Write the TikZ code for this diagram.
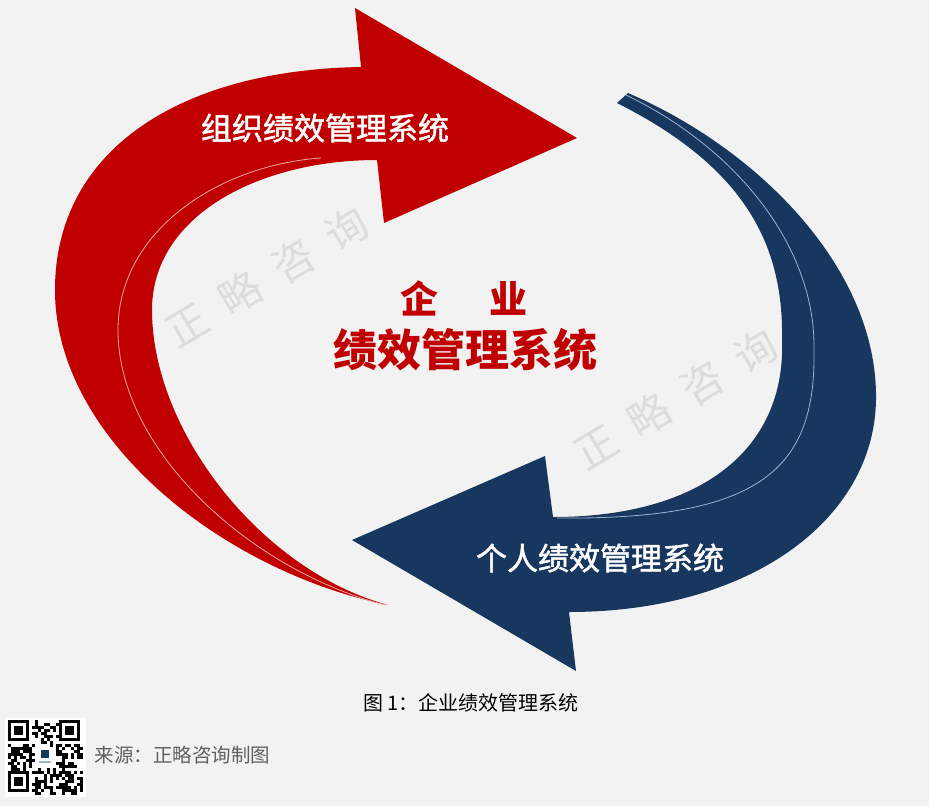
\documentclass[tikz,border=0pt]{standalone}
\usepackage{fontspec}
\setmainfont{Noto Sans CJK SC}
\newfontfamily\medcjk[FakeBold=1.6]{Noto Sans CJK SC}
\usepackage{tikz}

\definecolor{bggray}{HTML}{F2F2F2}
\definecolor{redfill}{HTML}{C00000}
\definecolor{bluefill}{HTML}{17375E}
\definecolor{redline}{HTML}{F3A6A0}
\definecolor{blueline}{HTML}{9DB3D0}
\definecolor{markgray}{HTML}{DCDCDC}
\definecolor{srcgray}{HTML}{5F5F5F}

\begin{document}
\begin{tikzpicture}[x=1pt, y=-1pt,
  arrowtext/.style={text=white, font=\fontsize{31}{36}\selectfont\medcjk},
  bigtitle/.style={text=redfill, font=\fontsize{44}{50}\selectfont\bfseries},
  midtitle/.style={text=redfill, font=\fontsize{38}{44}\selectfont\bfseries},
  watermark/.style={text=markgray, rotate=31, font=\fontsize{42}{48}\selectfont},
  captiontext/.style={text=black, font=\fontsize{20}{24}\selectfont}]
\useasboundingbox (0,0) rectangle (929,806);
\fill[bggray] (0,0) rectangle (929,806);

% watermarks
\node[watermark] (mark1) at (267,277) {正\hspace{20pt}略\hspace{20pt}咨\hspace{20pt}询};
\node[watermark] (mark2) at (676,399) {正\hspace{20pt}略\hspace{20pt}咨\hspace{20pt}询};

% red arrow
\fill[redfill] (361,67) -- (355,8) -- (577,138) -- (384,223) -- (377,160)
  .. controls (260,160) and (152,215) .. (152,310)
  .. controls (152,430) and (260,570) .. (388,605)
  .. controls (225,572) and (55,440) .. (55,290)
  .. controls (55,150) and (180,70) .. (361,67) -- cycle;
\draw[redline, line width=0.8pt] (321,158)
  .. controls (220,165) and (118,230) .. (118,330)
  .. controls (118,450) and (250,570) .. (385,605);

% blue arrow
\fill[bluefill] (628,93)
  .. controls (760,150) and (878,270) .. (876,400)
  .. controls (874,520) and (750,612) .. (569,612)
  -- (576,671) -- (352,540) -- (545,456) -- (553,517)
  .. controls (700,517) and (786,450) .. (782,340)
  .. controls (784,240) and (740,165) .. (617,103) -- cycle;
\draw[blueline, line width=0.8pt] (626,95)
  .. controls (740,150) and (816,250) .. (814,350)
  .. controls (816,470) and (760,520) .. (557,518);

% texts
\node[arrowtext] (org) at (325,128) {组织绩效管理系统};
\node[arrowtext] (person) at (600,558) {个人绩效管理系统};
\node[midtitle] (firm) at (464,298) {企\hspace{52pt}业};
\node[bigtitle] (system) at (465,350) {绩效管理系统};
\node[captiontext] (caption) at (471,703) {图 1：企业绩效管理系统};
\node[text=srcgray, font=\fontsize{19.5}{24}\selectfont, anchor=west] (source) at (91,755) {来源：正略咨询制图};

% qr code
\fill[white] (5,718) rectangle (86,797);
\pgfmathsetseed{11}
\foreach \i in {0,...,24}{
  \foreach \j in {0,...,24}{
    \pgfmathtruncatemacro\on{(rnd<0.5)*(1-(\i<8)*(\j<8))*(1-(\i>16)*(\j<8))*(1-(\i<8)*(\j>16))*(1-(\i>8)*(\i<16)*(\j>8)*(\j<16))}
    \ifnum\on=1 \fill[black] (7.5+3*\i,720+3*\j) rectangle ++(3,3); \fi
  }
}
\foreach \x/\y in {7.5/720, 58.5/720, 7.5/771}{
  \fill[black] (\x,\y) rectangle ++(21,21);
  \fill[white] (\x+3,\y+3) rectangle ++(15,15);
  \fill[black] (\x+6,\y+6) rectangle ++(9,9);
}
\fill[white] (34.5,747) rectangle (55.5,768);
\fill[bluefill] (41,750) rectangle (49,758);
\fill[blueline] (39,761) rectangle (51,763);
\end{tikzpicture}
\end{document}
